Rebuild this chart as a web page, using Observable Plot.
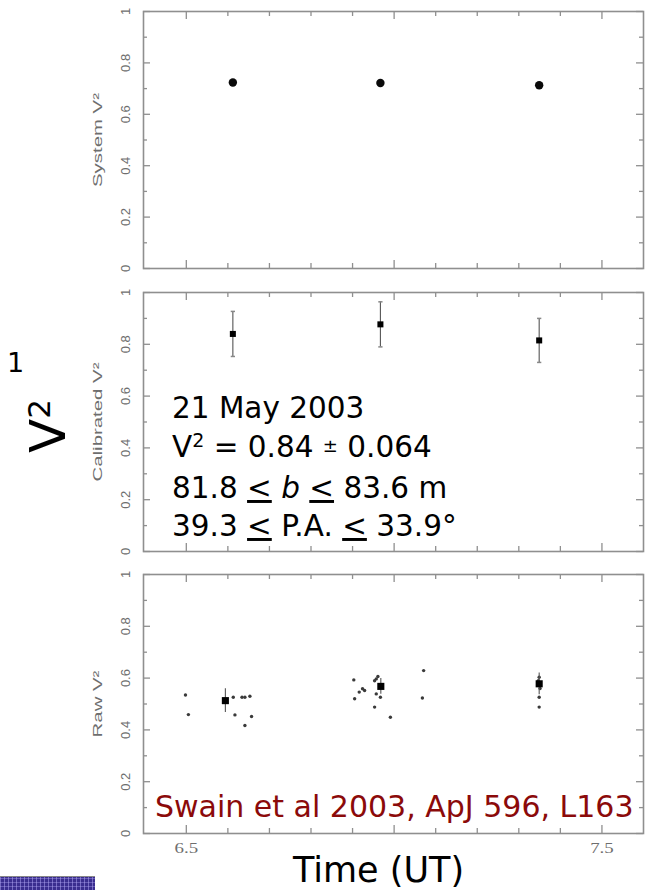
<!DOCTYPE html>
<html>
<head>
<meta charset="utf-8">
<script src="https://cdn.jsdelivr.net/npm/d3@7"></script>
<script src="https://cdn.jsdelivr.net/npm/@observablehq/plot@0.6"></script>
<style>
  body { margin: 0; background: #fff; }
  #page { position: relative; width: 649px; height: 890px; overflow: hidden; background: #fff; }
  #page > svg { position: absolute; left: 0; }
  #navbar {
    position: absolute; left: 0; top: 876px; width: 95px; height: 14px;
    background-color: #3a2d8f;
    background-image:
      repeating-linear-gradient(90deg, rgba(190,180,255,0.45) 0 1px, transparent 1px 4px),
      repeating-linear-gradient(0deg, rgba(190,180,255,0.35) 0 1px, transparent 1px 4px);
    border-top: 1px solid #888;
  }
</style>
</head>
<body>
<div id="page"><div id="navbar"></div></div>
<script>
// Observation times (UT hours) of the three calibrated points
const obsTime = [6.612, 6.967, 7.349];

// System visibility squared
const systemV2 = [0.724, 0.722, 0.713];

// Calibrated visibility squared with 1-sigma errors
const calV2 = [0.840, 0.877, 0.815];
const calErr = [0.087, 0.087, 0.085];

// Raw visibility: averaged values and their errors
const rawMeanTime = [6.594, 6.968, 7.349];
const rawMeanV2 = [0.513, 0.568, 0.578];
const rawMeanErr = [0.046, 0.030, 0.042];

// Raw visibility: individual scans
const scanTime = [
  6.498, 6.505, 6.613, 6.617, 6.634, 6.641, 6.653, 6.641, 6.657,
  6.903, 6.905, 6.916, 6.924, 6.929, 6.953, 6.957, 6.961, 6.957, 6.967, 6.953, 6.991, 7.071, 7.068,
  7.349, 7.347, 7.351, 7.349, 7.349
];
const scanV2 = [
  0.535, 0.459, 0.526, 0.458, 0.526, 0.526, 0.530, 0.417, 0.452,
  0.593, 0.520, 0.546, 0.559, 0.552, 0.590, 0.597, 0.606, 0.539, 0.526, 0.488, 0.449, 0.629, 0.523,
  0.603, 0.590, 0.560, 0.526, 0.488
];

// Axes
const xDomain = [6.397, 7.6];
const xMajorTicks = [6.5, 7.0, 7.5];
const xMinorTicks = [6.6, 6.7, 6.8, 6.9, 7.1, 7.2, 7.3, 7.4];
const xTickLabels = ["6.5", "7.5"];
const xLabelTicks = [6.5, 7.5];
const yMajorTicks = [0, 0.2, 0.4, 0.6, 0.8, 1];
const yMinorTicks = [0.1, 0.3, 0.5, 0.7, 0.9];
const yTickLabels = ["0", "0.2", "0.4", "0.6", "0.8", "1"];

const panelTitles = ["System V\u00B2", "Calibrated V\u00B2", "Raw V\u00B2"];

const W = 649, ML = 143, MR = 6;
const GRAY = "#8f8f8f";
const LABEL_GRAY = "#6e6e6e";
const page = document.getElementById("page");

// Short horizontal cap for error bars
const capSymbol = { draw(ctx, size) { const w = Math.sqrt(size) / 2; ctx.moveTo(-w, 0); ctx.lineTo(w, 0); } };

function frameMarks(iw, ih, title) {
  return [
    Plot.frame({ stroke: GRAY, strokeWidth: 1.6 }),
    Plot.tickY(yMajorTicks, { y: d => d, stroke: GRAY, strokeWidth: 1.3, insetRight: iw - 7 }),
    Plot.tickY(yMajorTicks, { y: d => d, stroke: GRAY, strokeWidth: 1.3, insetLeft: iw - 7 }),
    Plot.tickY(yMinorTicks, { y: d => d, stroke: GRAY, strokeWidth: 1.3, insetRight: iw - 4 }),
    Plot.tickY(yMinorTicks, { y: d => d, stroke: GRAY, strokeWidth: 1.3, insetLeft: iw - 4 }),
    Plot.tickX(xMajorTicks, { x: d => d, stroke: GRAY, strokeWidth: 1.3, insetBottom: ih - 8 }),
    Plot.tickX(xMajorTicks, { x: d => d, stroke: GRAY, strokeWidth: 1.3, insetTop: ih - 8 }),
    Plot.tickX(xMinorTicks, { x: d => d, stroke: GRAY, strokeWidth: 1.3, insetBottom: ih - 5 }),
    Plot.tickX(xMinorTicks, { x: d => d, stroke: GRAY, strokeWidth: 1.3, insetTop: ih - 5 }),
    Plot.text(yMajorTicks, {
      y: d => d, text: (d, i) => yTickLabels[i], frameAnchor: "left", dx: -17, rotate: -90,
      textAnchor: "middle", lineAnchor: "middle",
      fill: LABEL_GRAY, fontSize: 12, fontFamily: "Liberation Sans, Arial, sans-serif"
    }),
    Plot.text([title], {
      text: d => d, frameAnchor: "left", dx: -45, rotate: -90,
      textAnchor: "middle", lineAnchor: "middle",
      fill: LABEL_GRAY, fontSize: 12, fontFamily: "Liberation Sans, Arial, sans-serif"
    })
  ];
}

function panel({ frameTop, frameBottom, title, marks, bottomAxis = false }) {
  const mt = 12, mb = bottomAxis ? 34 : 12;
  const ih = frameBottom - frameTop;
  const iw = W - ML - MR;
  const extra = bottomAxis ? [
    Plot.text(xLabelTicks, {
      x: d => d, text: (d, i) => xTickLabels[i], frameAnchor: "bottom", dy: 15,
      textAnchor: "middle", lineAnchor: "middle",
      fill: LABEL_GRAY, fontSize: 14, fontFamily: "Liberation Serif, Times New Roman, serif"
    })
  ] : [];
  const svg = Plot.plot({
    width: W, height: ih + mt + mb,
    marginLeft: ML, marginRight: MR, marginTop: mt, marginBottom: mb,
    x: { domain: xDomain, axis: null },
    y: { domain: [0, 1], axis: null },
    style: { background: "transparent", overflow: "visible" },
    marks: [...frameMarks(iw, ih, title), ...extra, ...marks]
  });
  svg.style.top = (frameTop - mt) + "px";
  page.appendChild(svg);
  return svg;
}

const p1 = panel({
  frameTop: 11, frameBottom: 268, title: panelTitles[0],
  marks: [Plot.dot(obsTime, { x: obsTime, y: systemV2, r: 4.2, fill: "#0a0a0a" })]
});

const p2 = panel({
  frameTop: 292, frameBottom: 551, title: panelTitles[1],
  marks: [
    Plot.ruleX(obsTime, { x: obsTime, y1: calV2.map((v, i) => v - calErr[i]), y2: calV2.map((v, i) => v + calErr[i]), stroke: "#555", strokeWidth: 1.1 }),
    Plot.dot(obsTime, { x: obsTime, y: calV2.map((v, i) => v - calErr[i]), symbol: capSymbol, r: 2.4, stroke: "#888", fill: "none" }),
    Plot.dot(obsTime, { x: obsTime, y: calV2.map((v, i) => v + calErr[i]), symbol: capSymbol, r: 2.4, stroke: "#888", fill: "none" }),
    Plot.dot(obsTime, { x: obsTime, y: calV2, symbol: "square", r: 3.4, fill: "#000" })
  ]
});

const p3 = panel({
  frameTop: 574, frameBottom: 833, title: panelTitles[2], bottomAxis: true,
  marks: [
    Plot.dot(scanTime, { x: scanTime, y: scanV2, r: 1.7, fill: "#3a3a3a" }),
    Plot.ruleX(rawMeanTime, { x: rawMeanTime, y1: rawMeanV2.map((v, i) => v - rawMeanErr[i]), y2: rawMeanV2.map((v, i) => v + rawMeanErr[i]), stroke: "#555", strokeWidth: 1.1 }),
    Plot.dot(rawMeanTime, { x: rawMeanTime, y: rawMeanV2, symbol: "square", r: 4, fill: "#000" })
  ]
});

// The printed figure is stretched along its vertical axis; widen the axis labels along their reading direction
function stretchLabels(root) {
  root.querySelectorAll("text").forEach(t => {
    const s = t.textContent;
    let factor = 1;
    if (panelTitles.includes(s)) factor = 1.7;
    else if (xTickLabels.includes(s)) factor = 1.35;
    else if (yTickLabels.includes(s)) factor = 1.08;
    if (factor === 1) return;
    const tr = t.getAttribute("transform") || "";
    t.setAttribute("transform", `${tr} scale(${factor},1)`);
  });
}
[p1, p2, p3].forEach(stretchLabels);

// Annotation layer
const overlay = d3.select(page).append("svg")
  .attr("width", W).attr("height", 890)
  .style("top", "0px").style("pointer-events", "none")
  .style("font-family", "'DejaVu Sans', Verdana, sans-serif");

overlay.append("text").attr("x", 7).attr("y", 372).attr("font-size", 27).attr("fill", "#000").text("1");

const bigV = overlay.append("text").attr("transform", "translate(65,453) rotate(-90)")
  .attr("font-size", 50).attr("fill", "#000");
bigV.append("tspan").text("V");
bigV.append("tspan").attr("font-size", 31).attr("dy", -15).text("2");

const info = overlay.append("g").attr("font-size", 29.5).attr("fill", "#000");
info.append("text").attr("x", 172).attr("y", 418).text("21 May 2003");

const l2 = info.append("text").attr("x", 172).attr("y", 457);
l2.append("tspan").text("V");
l2.append("tspan").attr("font-size", 19).attr("dy", -10).text("2");
l2.append("tspan").attr("dy", 10).text(" = 0.84 ");
l2.append("tspan").attr("font-size", 18).attr("dy", -5).text("\u00B1");
l2.append("tspan").attr("dy", 5).text(" 0.064");

const l3 = info.append("text").attr("x", 172).attr("y", 498);
l3.append("tspan").text("81.8 ");
l3.append("tspan").style("text-decoration", "underline").text("<");
l3.append("tspan").text(" ");
l3.append("tspan").attr("font-style", "italic").text("b");
l3.append("tspan").text(" ");
l3.append("tspan").style("text-decoration", "underline").text("<");
l3.append("tspan").text(" 83.6 m");

const l4 = info.append("text").attr("x", 172).attr("y", 536);
l4.append("tspan").text("39.3 ");
l4.append("tspan").style("text-decoration", "underline").text("<");
l4.append("tspan").text(" P.A. ");
l4.append("tspan").style("text-decoration", "underline").text("<");
l4.append("tspan").text(" 33.9\u00B0");

overlay.append("text").attr("x", 155).attr("y", 817).attr("font-size", 30).attr("fill", "#8b0a0a")
  .text("Swain et al 2003, ApJ 596, L163");

overlay.append("text").attr("x", 293).attr("y", 882).attr("font-size", 35).attr("fill", "#000")
  .text("Time (UT)");
</script>
</body>
</html>
